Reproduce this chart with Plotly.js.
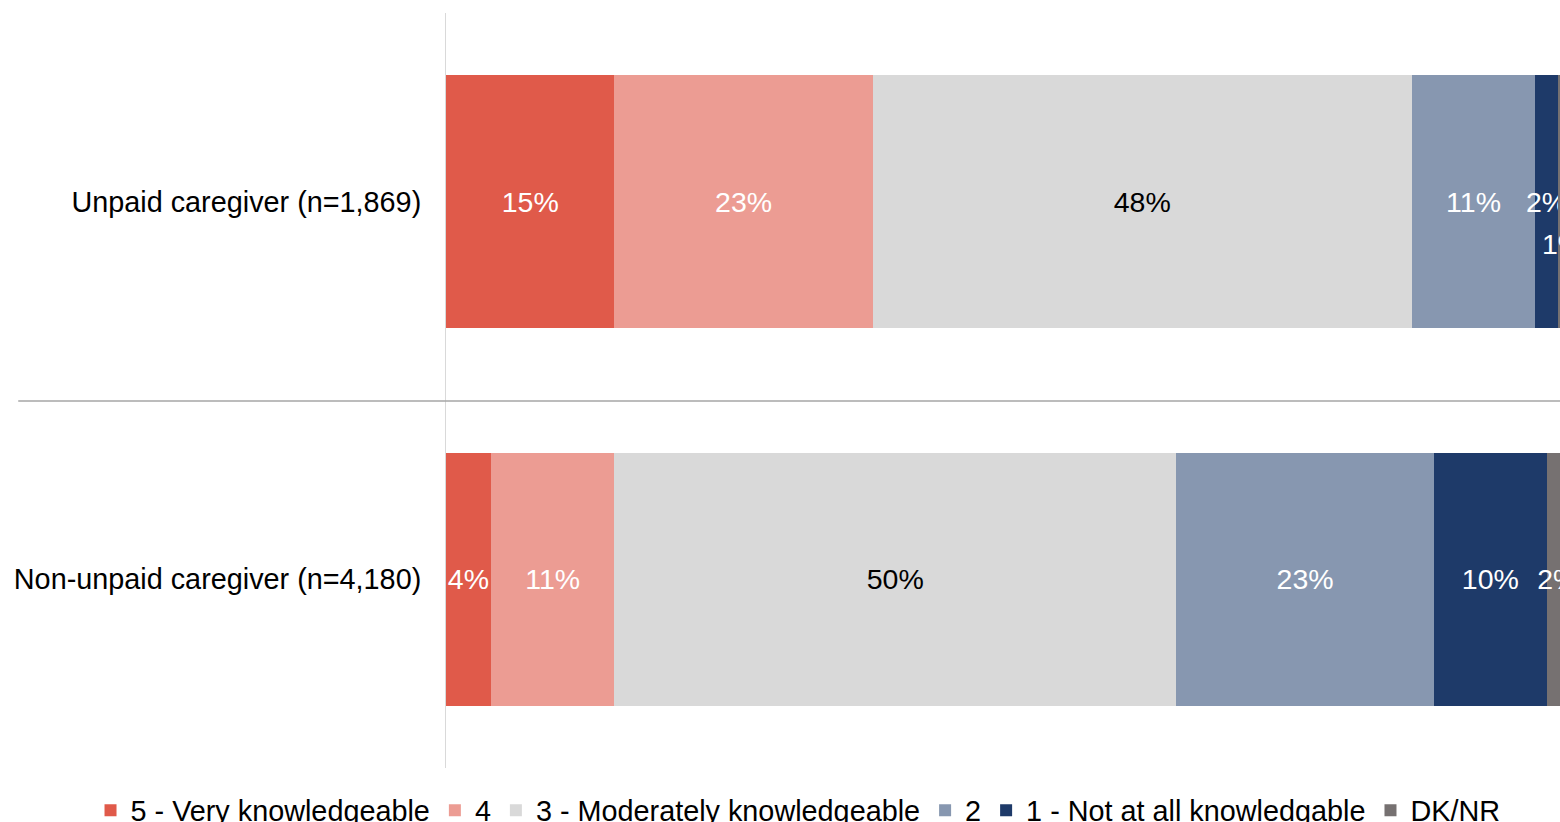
<!DOCTYPE html>
<html>
<head>
<meta charset="utf-8">
<script src="https://cdn.plot.ly/plotly-3.0.1.min.js"></script>
<style>
  html, body { margin: 0; padding: 0; background: #ffffff; }
  #chart { width: 1560px; height: 822px; }
</style>
</head>
<body>
<div id="chart"></div>
<script>
// Respondent groups (top to bottom)
const groups = ['Unpaid caregiver (n=1,869)', 'Non-unpaid caregiver (n=4,180)'];

// Self-rated knowledge levels, in stacking order
const levels = [
  '5 - Very knowledgeable',
  '4',
  '3 - Moderately knowledgeable',
  '2',
  '1 - Not at all knowledgable',
  'DK/NR'
];

// Percent of each group per level
const veryKnowledgeable = [15, 4];
const level4 = [23, 11];
const moderatelyKnowledgeable = [48, 50];
const level2 = [11, 23];
const notAtAllKnowledgeable = [2, 10];
const dontKnow = [1, 2];

const series = [veryKnowledgeable, level4, moderatelyKnowledgeable, level2, notAtAllKnowledgeable, dontKnow];

const colors = ['#E05A4A', '#EC9C93', '#D9D9D9', '#8797B0', '#1E3A69', '#767171'];
const labelColors = ['#ffffff', '#ffffff', '#000000', '#ffffff', '#ffffff', '#ffffff'];

const baseFont = 'Liberation Sans, Arial, Helvetica, sans-serif';

// Visible part of the percentage scale
const xRange = [0, 99.2];

// Segments too narrow to hold their own label get it just below instead
const narrow = (v) => v < 2;

const traces = series.map((vals, i) => ({
  type: 'bar',
  orientation: 'h',
  name: levels[i],
  y: groups,
  x: vals,
  marker: { color: colors[i], line: { width: 0 } },
  texttemplate: '%{x}%',
  textposition: vals.map(v => narrow(v) ? 'none' : 'inside'),
  insidetextanchor: 'middle',
  constraintext: 'none',
  textangle: 0,
  textfont: { family: baseFont, size: 28.5, color: labelColors[i] },
  hoverinfo: 'name+x'
}));

// Offset labels for narrow segments, starting at the segment's left edge
// (placed in paper units so they still show past the visible range)
const annotations = [];
groups.forEach((g, gi) => {
  let cum = 0;
  series.forEach((vals, si) => {
    const v = vals[gi];
    if (narrow(v)) {
      annotations.push({
        x: (cum - xRange[0]) / (xRange[1] - xRange[0]),
        xanchor: 'left',
        xshift: -18,
        y: g, xref: 'paper', yref: 'y',
        text: v + '%', showarrow: false, yshift: -42,
        font: { family: baseFont, size: 28.5, color: labelColors[si] }
      });
    }
    cum += v;
  });
});

const layout = {
  width: 1560,
  height: 822,
  margin: { l: 446, r: 0, t: 13, b: 54, autoexpand: false },
  paper_bgcolor: '#ffffff',
  plot_bgcolor: '#ffffff',
  barmode: 'stack',
  bargap: 0.33,
  font: { family: baseFont, size: 28.5, color: '#000000' },
  xaxis: {
    range: xRange,
    visible: false,
    fixedrange: true
  },
  yaxis: {
    type: 'category',
    autorange: 'reversed',
    showline: true,
    linecolor: '#D9D9D9',
    linewidth: 1,
    showgrid: false,
    zeroline: false,
    ticks: '',
    ticklabelstandoff: 18,
    tickfont: { family: baseFont, size: 28.8, color: '#000000' },
    fixedrange: true
  },
  shapes: [{
    type: 'line', xref: 'paper', yref: 'paper',
    x0: -0.384, x1: 1, y0: 0.486, y1: 0.486,
    line: { color: '#A6A6A6', width: 1.5 },
    layer: 'above'
  }],
  annotations: annotations,
  showlegend: true,
  legend: {
    orientation: 'h',
    traceorder: 'normal',
    xref: 'paper',
    yref: 'paper',
    x: -0.3191,
    xanchor: 'left',
    y: -0.0225,
    yanchor: 'top',
    font: { family: baseFont, size: 28.8, color: '#000000' },
    bgcolor: 'rgba(0,0,0,0)'
  }
};

Plotly.newPlot('chart', traces, layout, { displayModeBar: false, staticPlot: true });
</script>
</body>
</html>
